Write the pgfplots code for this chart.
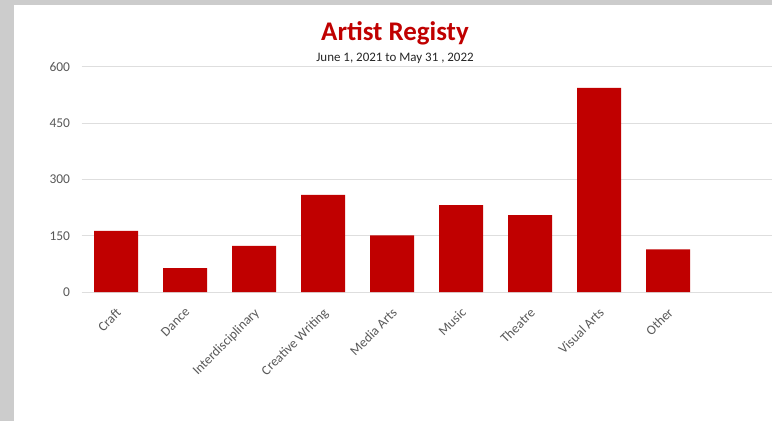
\documentclass[border=0pt]{standalone}
\usepackage{pgfplots}
\pgfplotsset{compat=1.18}
\usepackage{fontspec}
\setmainfont{Carlito}
\definecolor{barred}{RGB}{192,0,0}
\definecolor{bordergray}{RGB}{204,204,204}
\definecolor{gridgray}{RGB}{222,222,222}
\definecolor{labelgray}{RGB}{89,89,89}
\begin{document}
\begin{tikzpicture}[x=1bp,y=1bp]
\fill[bordergray] (0,0) rectangle (772,421);
\fill[white] (14,0) rectangle (772,416);
\node[font=\fontsize{27}{30}\selectfont\bfseries, text=barred, anchor=base, inner sep=0pt] at (395,381) {Artist Registy};
\node[font=\fontsize{13}{15}\selectfont, text=black!85, anchor=base, inner sep=0pt] at (395,360) {June 1, 2021 to May 31 , 2022};
\begin{axis}[
  at={(81.5bp,129bp)}, anchor=south west,
  scale only axis, width=690bp, height=225bp,
  xmin=-0.5, xmax=9.5, ymin=0, ymax=600,
  ybar, bar width=44bp,
  xtick={0,...,8},
  xticklabels={Craft,Dance,Interdisciplinary,Creative Writing,Media Arts,Music,Theatre,Visual Arts,Other},
  ytick={0,150,300,450,600},
  axis line style={draw=none},
  major tick length=0pt,
  ymajorgrids, grid style={gridgray, line width=1bp},
  tick label style={font=\fontsize{13.5}{15}\selectfont, text=labelgray},
  /pgf/number format/assume math mode=true,
  yticklabel style={xshift=-8bp},
  xticklabel style={rotate=45, anchor=north east, inner sep=1bp, xshift=-10bp, yshift=-9bp},
  clip=false,
]
\addplot[fill=barred, draw=none] coordinates {(0,163) (1,64) (2,123) (3,259) (4,151) (5,232) (6,205) (7,544) (8,114)};
\end{axis}
\end{tikzpicture}
\end{document}
